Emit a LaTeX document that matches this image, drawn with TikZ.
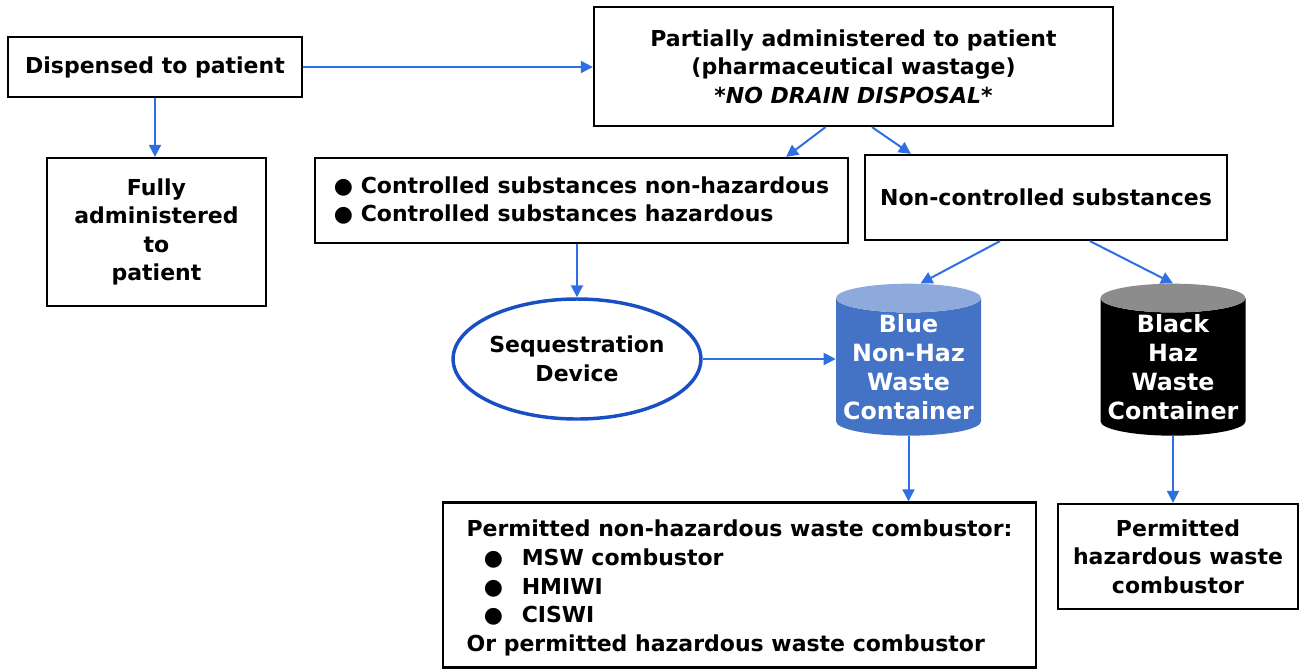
\documentclass[tikz,border=0pt]{standalone}
\usepackage{fontspec}
\setmainfont{DejaVu Sans}
\usetikzlibrary{shapes.geometric,arrows.meta,positioning}
\definecolor{arrowblue}{HTML}{2F6FE4}
\definecolor{ringblue}{HTML}{1A4FC4}
\definecolor{cylblue}{HTML}{4472C4}
\definecolor{cyltop}{HTML}{8EA9DB}
\definecolor{cylgray}{HTML}{8C8C8C}

\begin{document}
\begin{tikzpicture}[
    x=0.75pt, y=-0.75pt,
    font=\fontsize{16.5}{21.4}\selectfont\bfseries,
    box/.style={draw, line width=1.7pt, inner sep=0pt, align=center},
    ring/.style={ellipse, draw=ringblue, line width=2.6pt, inner sep=0pt, align=center},
    bin/.style={cylinder, shape border rotate=90, aspect=0.22, cylinder uses custom fill,
        text=white, inner sep=0pt, align=center, minimum width=108.75pt, minimum height=114pt,
        font=\fontsize{17.8}{21.8}\selectfont\bfseries},
    arrow/.style={-{Triangle[length=9pt,width=9pt]}, line width=1.5pt, draw=arrowblue, fill=arrowblue}
]
\useasboundingbox (0,0) rectangle (1302,669);

% top row
\node[box, minimum width=220.5pt, minimum height=45pt] (disp) at (155,67) {Dispensed to patient};
\node[box, minimum width=389.25pt, minimum height=89.25pt] (part) at (853.5,66.5)
    {Partially administered to patient\\(pharmaceutical wastage)\\\textit{*NO DRAIN DISPOSAL*}};

% second row
\node[box, minimum width=164.25pt, minimum height=111pt] (full) at (156.5,232)
    {Fully\\administered\\to\\patient};
\node[box, minimum width=399.75pt, minimum height=63.75pt, align=left] (ctrl) at (581.5,200.5)
    {● Controlled substances non-hazardous\\● Controlled substances hazardous};
\node[box, minimum width=271.5pt, minimum height=63.75pt] (nonctrl) at (1046,197.5) {Non-controlled substances};

% device and containers
\node[ring, minimum width=176pt, minimum height=90pt] (seq) at (577,359) {Sequestration\\Device};
\node[bin, cylinder body fill=cylblue, cylinder end fill=cyltop] (bluebin) at (908.5,367)
    {Blue\\Non-Haz\\Waste\\Container};
\node[bin, cylinder body fill=black, cylinder end fill=cylgray] (blackbin) at (1173,367)
    {Black\\Haz\\Waste\\Container};

% combustors
\node[box, minimum width=444.75pt, minimum height=123.75pt, align=left] (nonhaz) at (739.5,585)
    {\rule{0pt}{17pt}Permitted non-hazardous waste combustor:\\
     \hspace*{13pt}●\hspace*{14pt}MSW combustor\\
     \hspace*{13pt}●\hspace*{14pt}HMIWI\\
     \hspace*{13pt}●\hspace*{14pt}CISWI\\
     Or permitted hazardous waste combustor};
\node[box, minimum width=180pt, minimum height=78.75pt] (haz) at (1178,556.5)
    {Permitted\\hazardous waste\\combustor};

% connectors
\draw[arrow] (disp.east) -- (disp.east -| part.west);
\draw[arrow] (disp.south) -- (disp.south |- full.north);
\draw[arrow] ([xshift=-21pt]part.south) -- ([xshift=-47.25pt]ctrl.north east);
\draw[arrow] ([xshift=13.9pt]part.south) -- ([xshift=35.25pt]nonctrl.north west);
\draw[arrow] (ctrl.south -| seq.north) -- (seq.north);
\draw[arrow] ([xshift=-34.5pt]nonctrl.south) -- ([xshift=9pt]bluebin.north);
\draw[arrow] ([xshift=33pt]nonctrl.south) -- (blackbin.north);
\draw[arrow] (seq.east) -- (seq.east -| bluebin.west);
\draw[arrow] (bluebin.south) -- (bluebin.south |- nonhaz.north);
\draw[arrow] (blackbin.south) -- (blackbin.south |- haz.north);
\end{tikzpicture}
\end{document}
